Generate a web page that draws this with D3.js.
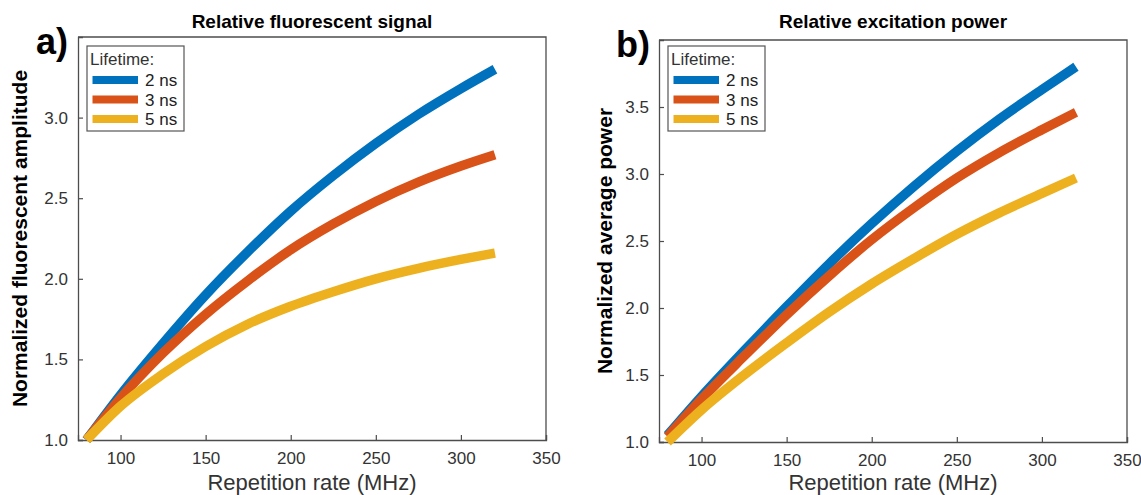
<!DOCTYPE html>
<html>
<head>
<meta charset="utf-8">
<script src="https://cdn.jsdelivr.net/npm/d3@7"></script>
<style>
  body { margin: 0; background: #fff; }
  svg { display: block; font-family: "Liberation Sans", Arial, sans-serif; }
</style>
</head>
<body>
<svg id="chart" width="1141" height="495"></svg>
<script>
// repetition rate (MHz) at which the curves were read
var rate = [80, 100, 125, 150, 175, 200, 225, 250, 275, 300, 320];

// a) relative fluorescent signal
var signal2ns = [1.0, 1.28, 1.60, 1.90, 2.17, 2.42, 2.64, 2.84, 3.02, 3.18, 3.30];
var signal3ns = [1.0, 1.26, 1.54, 1.78, 1.99, 2.18, 2.34, 2.48, 2.60, 2.70, 2.77];
var signal5ns = [1.0, 1.21, 1.41, 1.58, 1.72, 1.83, 1.92, 2.00, 2.065, 2.12, 2.16];

// b) relative excitation power
var power2ns = [1.05, 1.34, 1.68, 2.01, 2.33, 2.63, 2.91, 3.17, 3.41, 3.63, 3.80];
var power3ns = [1.04, 1.32, 1.64, 1.95, 2.24, 2.51, 2.75, 2.97, 3.16, 3.33, 3.46];
var power5ns = [1.0, 1.24, 1.50, 1.74, 1.97, 2.18, 2.37, 2.55, 2.71, 2.855, 2.97];

var lifetimes = ["2 ns", "3 ns", "5 ns"];
var colors = ["#0072BD", "#D95319", "#EDB120"];

var xTicks = [100, 150, 200, 250, 300, 350];
var yTicksA = [1.0, 1.5, 2.0, 2.5, 3.0];
var yTicksB = [1.0, 1.5, 2.0, 2.5, 3.0, 3.5];

var svg = d3.select("#chart");

function drawPanel(p) {
    var g = svg.append("g").attr("transform", "translate(" + p.left + "," + p.top + ")");

    var x = d3.scaleLinear().domain([75, 350]).range([0, p.width]);
    var y = d3.scaleLinear().domain(p.yDomain).range([p.height, 0]);

    // osy - tiky dovnitř jako v MATLABu
    var xAxis = g.append("g")
        .attr("transform", "translate(0," + p.height + ")")
        .call(d3.axisBottom(x).tickValues(xTicks).tickSize(-5).tickPadding(12).tickFormat(d3.format("d")));
    var yAxis = g.append("g")
        .call(d3.axisLeft(y).tickValues(p.yTicks).tickSize(-5).tickPadding(10).tickFormat(d3.format(".1f")));

    [xAxis, yAxis].forEach(function (a) {
        a.select(".domain").attr("stroke", "#4d4d4d").attr("stroke-width", 1.3);
        a.selectAll(".tick line").attr("stroke", "#4d4d4d").attr("stroke-width", 1.2);
        a.selectAll(".tick text").attr("fill", "#333").style("font-size", "17px")
            .style("font-family", "'Liberation Sans', Arial, sans-serif");
    });

    // horní a pravá hrana rámečku
    g.append("path")
        .attr("d", "M0,0H" + p.width + "V" + p.height)
        .attr("fill", "none").attr("stroke", "#4d4d4d").attr("stroke-width", 1.3);

    // křivky
    var line = d3.line()
        .x(function (d) { return x(d[0]); })
        .y(function (d) { return y(d[1]); })
        .curve(d3.curveMonotoneX);

    p.series.forEach(function (vals, i) {
        g.append("path")
            .datum(rate.map(function (r, j) { return [r, vals[j]]; }))
            .attr("d", line)
            .attr("fill", "none")
            .attr("stroke", colors[i])
            .attr("stroke-width", 9.5);
    });

    // legenda
    var lg = g.append("g").attr("transform", "translate(9," + (46 - p.top) + ")");
    lg.append("rect").attr("width", 97).attr("height", 85)
        .attr("fill", "#fff").attr("stroke", "#555").attr("stroke-width", 1.2);
    lg.append("text").attr("x", 3).attr("y", 19).text("Lifetime:")
        .attr("fill", "#333").style("font-size", "17px");
    lifetimes.forEach(function (lab, i) {
        var cy = 34 + i * 19.5;
        lg.append("line").attr("x1", 5.5).attr("x2", 51).attr("y1", cy).attr("y2", cy)
            .attr("stroke", colors[i]).attr("stroke-width", 8);
        lg.append("text").attr("x", 58).attr("y", cy + 6).text(lab)
            .attr("fill", "#222").style("font-size", "17px");
    });

    // popisky
    g.append("text")
        .attr("x", p.width / 2).attr("y", 28 - p.top)
        .attr("text-anchor", "middle")
        .style("font-size", "19px").style("font-weight", "bold")
        .text(p.title);

    g.append("text")
        .attr("x", p.width / 2).attr("y", 490 - p.top)
        .attr("text-anchor", "middle")
        .attr("fill", "#333")
        .style("font-size", "22px")
        .text("Repetition rate (MHz)");

    g.append("text")
        .attr("transform", "translate(" + p.yLabelX + "," + (p.height / 2) + ") rotate(-90)")
        .attr("text-anchor", "middle")
        .style("font-size", "21px").style("font-weight", "bold")
        .text(p.yLabel);

    svg.append("text")
        .attr("x", p.letterX).attr("y", p.letterY)
        .style("font-size", "36px").style("font-weight", "bold")
        .text(p.letter);
}

drawPanel({
    left: 78, top: 37, width: 468, height: 403,
    yDomain: [1, 3.5], yTicks: yTicksA,
    series: [signal2ns, signal3ns, signal5ns],
    title: "Relative fluorescent signal",
    yLabel: "Normalized fluorescent amplitude", yLabelX: -51,
    letter: "a)", letterX: 36, letterY: 54
});

drawPanel({
    left: 659, top: 40, width: 468, height: 402,
    yDomain: [1, 4], yTicks: yTicksB,
    series: [power2ns, power3ns, power5ns],
    title: "Relative excitation power",
    yLabel: "Normalized average power", yLabelX: -47,
    letter: "b)", letterX: 616, letterY: 57
});
</script>
</body>
</html>
